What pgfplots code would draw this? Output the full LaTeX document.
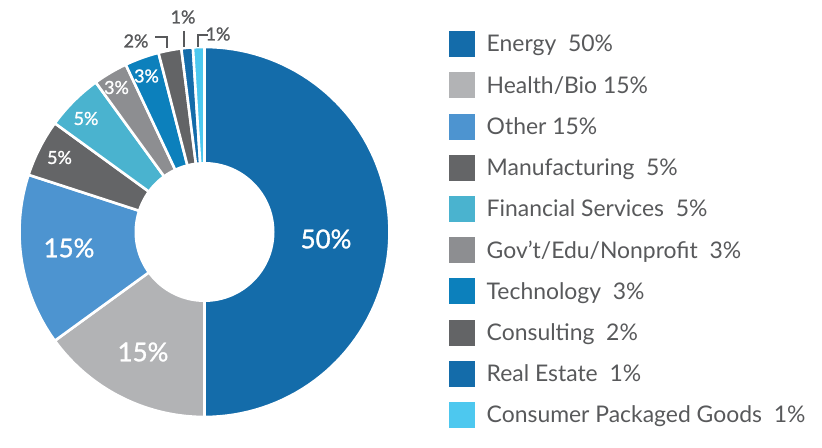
\documentclass[border=0pt]{standalone}
\usepackage{pgfplots}
\pgfplotsset{compat=1.18}
\usepackage{fontspec}
\setmainfont{Lato}
\newfontfamily\labfont{Lato}[FakeBold=1.2]
\definecolor{cEnergy}{HTML}{146CAA}
\definecolor{cHealth}{HTML}{B2B3B5}
\definecolor{cOther}{HTML}{4D94D0}
\definecolor{cManu}{HTML}{646567}
\definecolor{cFin}{HTML}{4AB3CF}
\definecolor{cGov}{HTML}{8D8E91}
\definecolor{cTech}{HTML}{0C80BC}
\definecolor{cCons}{HTML}{636466}
\definecolor{cReal}{HTML}{146CAA}
\definecolor{cCPG}{HTML}{4DC8EF}
\definecolor{tgray}{HTML}{58595B}
\newcommand\lentry[1]{\rule[-5bp]{0pt}{22bp}#1}
\begin{document}
\begin{tikzpicture}
\begin{axis}[
  width=822bp, height=448bp, scale only axis,
  xmin=0, xmax=822, ymin=0, ymax=448,
  hide axis, clip=false,
  legend style={draw=none, fill=none, inner sep=0pt,
    at={(axis cs:449,417)}, anchor=north west,
    font=\fontsize{23}{27}\selectfont, text=tgray,
    row sep=15.2bp,
    /tikz/every odd column/.append style={column sep=9.5bp}},
  legend cell align=left,
  legend image code/.code={\fill[#1,draw=none] (0bp,-13bp) rectangle (26bp,13bp);},
  slice/.style={draw=white, line width=2.6bp, samples=80, variable=\t},
]
% slices: percentages 50,15,15,5,5,3,3,2,1,1 -> clockwise from 12 o'clock
\addplot[slice, fill=cEnergy, domain=-90:90] ({204.5+185*cos(\t)},{216+185*sin(\t)}) -- (axis cs:204.5,216) -- cycle;
\addlegendentry{\lentry{Energy\ \ 50\%}}
\addplot[slice, fill=cHealth, domain=-144:-90] ({204.5+185*cos(\t)},{216+185*sin(\t)}) -- (axis cs:204.5,216) -- cycle;
\addlegendentry{\lentry{Health/Bio 15\%}}
\addplot[slice, fill=cOther, domain=-198:-144] ({204.5+185*cos(\t)},{216+185*sin(\t)}) -- (axis cs:204.5,216) -- cycle;
\addlegendentry{\lentry{Other 15\%}}
\addplot[slice, fill=cManu, domain=-216:-198] ({204.5+185*cos(\t)},{216+185*sin(\t)}) -- (axis cs:204.5,216) -- cycle;
\addlegendentry{\lentry{Manufacturing\ \ 5\%}}
\addplot[slice, fill=cFin, domain=-234:-216] ({204.5+185*cos(\t)},{216+185*sin(\t)}) -- (axis cs:204.5,216) -- cycle;
\addlegendentry{\lentry{Financial Services\ \ 5\%}}
\addplot[slice, fill=cGov, domain=-244.8:-234] ({204.5+185*cos(\t)},{216+185*sin(\t)}) -- (axis cs:204.5,216) -- cycle;
\addlegendentry{\lentry{Gov’t/Edu/Nonprofit\ \ 3\%}}
\addplot[slice, fill=cTech, domain=-255.6:-244.8] ({204.5+185*cos(\t)},{216+185*sin(\t)}) -- (axis cs:204.5,216) -- cycle;
\addlegendentry{\lentry{Technology\ \ 3\%}}
\addplot[slice, fill=cCons, domain=-262.8:-255.6] ({204.5+185*cos(\t)},{216+185*sin(\t)}) -- (axis cs:204.5,216) -- cycle;
\addlegendentry{\lentry{Consulting\ \ 2\%}}
\addplot[slice, fill=cReal, domain=-266.4:-262.8] ({204.5+185*cos(\t)},{216+185*sin(\t)}) -- (axis cs:204.5,216) -- cycle;
\addlegendentry{\lentry{Real Estate\ \ 1\%}}
\addplot[slice, fill=cCPG, domain=-270:-266.4] ({204.5+185*cos(\t)},{216+185*sin(\t)}) -- (axis cs:204.5,216) -- cycle;
\addlegendentry{\lentry{Consumer Packaged Goods\ \ 1\%}}
% hole
\addplot[fill=white, draw=none, domain=0:360, samples=120, variable=\t, forget plot] ({204.5+70*cos(\t)},{216+70*sin(\t)}) -- cycle;
% inner labels
\begin{scope}[every node/.style={text=white}]
\node[font=\labfont\fontsize{26}{30}\selectfont] at (axis cs:326,209) {50\%};
\node[font=\labfont\fontsize{26}{30}\selectfont] at (axis cs:143,96) {15\%};
\node[font=\labfont\fontsize{26}{30}\selectfont] at (axis cs:69,200) {15\%};
\node[font=\labfont\fontsize{18}{22}\selectfont] at (axis cs:59.5,290.5) {5\%};
\node[font=\labfont\fontsize{18}{22}\selectfont] at (axis cs:86,329.5) {5\%};
\node[font=\labfont\fontsize{18}{22}\selectfont] at (axis cs:116.5,360.5) {3\%};
\node[font=\labfont\fontsize{18}{22}\selectfont] at (axis cs:146.5,372) {3\%};
\end{scope}
% outer labels with leaders
\node[text=tgray, font=\labfont\fontsize{18}{22}\selectfont] at (axis cs:136,407) {2\%};
\node[text=tgray, font=\labfont\fontsize{18}{22}\selectfont] at (axis cs:183,431) {1\%};
\node[text=tgray, font=\labfont\fontsize{18}{22}\selectfont] at (axis cs:218,414) {1\%};
\draw[tgray, line width=2.7bp] (axis cs:155,411) -- (axis cs:167,411) -- (axis cs:167,400);
\draw[tgray, line width=2.7bp] (axis cs:184,417) -- (axis cs:184,401);
\draw[tgray, line width=2.7bp] (axis cs:198,401) -- (axis cs:198,413) -- (axis cs:208,413);
\end{axis}
\pgfresetboundingbox
\useasboundingbox (current axis.south west) rectangle (current axis.north east);
\end{tikzpicture}
\end{document}
